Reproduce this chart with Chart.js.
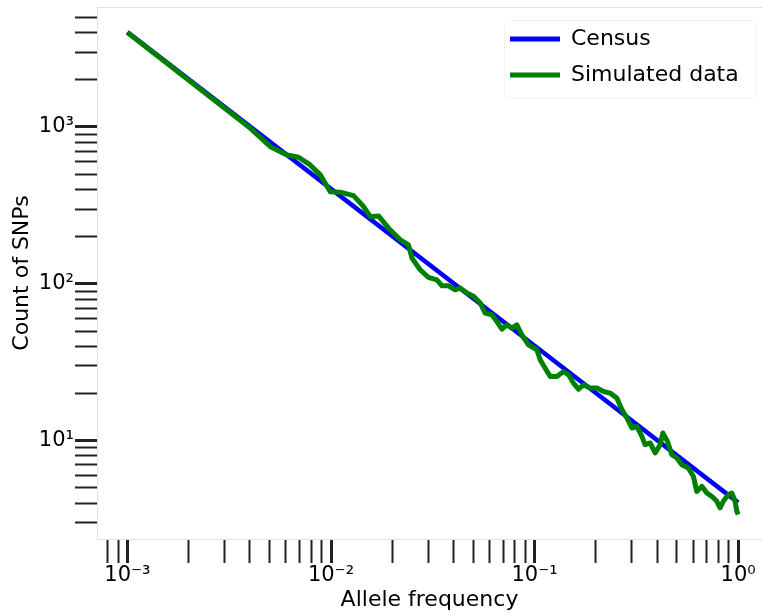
<!DOCTYPE html>
<html>
<head>
<meta charset="utf-8">
<script src="https://cdn.jsdelivr.net/npm/chart.js@4.4.1/dist/chart.umd.min.js"></script>
<style>
  html, body { margin: 0; padding: 0; background: #fff; overflow: hidden; }
</style>
</head>
<body>
<canvas id="sfsChart" width="762" height="616"></canvas>
<script>
// Census: recta en escala log-log
const censusFreq = [0.001, 0.01, 0.1, 1];
const censusCount = [4030, 403, 40.3, 4.03];

// Simulated data
const simFreq = [0.001, 0.00402, 0.00504, 0.00608, 0.00693, 0.0079, 0.00886, 0.00992, 0.0111, 0.0129,
  0.01445, 0.0156, 0.0171, 0.0195, 0.0219, 0.0240, 0.0250, 0.0274, 0.0301, 0.0331,
  0.0351, 0.0378, 0.0407, 0.0432, 0.0465, 0.0501, 0.0541, 0.0572, 0.0617, 0.0653,
  0.0691, 0.0731, 0.0774, 0.0818, 0.0866, 0.0933, 0.1026, 0.1065, 0.1127, 0.1193,
  0.1287, 0.1387, 0.1467, 0.1552, 0.1642, 0.1738, 0.1875, 0.2024, 0.218, 0.235,
  0.2535, 0.2683, 0.2838, 0.3005, 0.3177, 0.3365, 0.349, 0.3694, 0.3908, 0.4136,
  0.4266, 0.4492, 0.4721, 0.4996, 0.5284, 0.5693, 0.6026, 0.626, 0.663, 0.7015,
  0.7413, 0.785, 0.815, 0.8453, 0.8953, 0.93, 0.966, 0.984, 1.0];
const simCount = [4000, 981, 749, 663, 641, 573, 495, 387, 384, 365,
  311, 268, 271, 221, 191, 177, 146, 123, 110, 106,
  97.1, 97.1, 91.6, 93.9, 87.3, 83.3, 75.4, 65.1, 63.5, 57.5,
  51.5, 54.8, 52.2, 54.8, 47.3, 40.9, 38.0, 32.8, 29.0, 25.7,
  25.7, 27.6, 26.3, 23.3, 21.3, 22.7, 21.7, 21.7, 20.6, 20.1,
  18.7, 15.8, 13.96, 12.05, 12.33, 10.65, 9.43, 9.67, 8.35, 9.43,
  11.2, 9.9, 8.15, 7.76, 7.03, 6.70, 5.92, 4.75, 5.12, 4.64,
  4.42, 4.11, 3.73, 4.11, 4.53, 4.64, 4.11, 3.55, 3.38];

// ticks: decadas y multiplicadores menores
const xDecades = [-4, -3, -2, -1, 0];
const yDecades = [0, 1, 2, 3];
const tickMultipliers = [1, 2, 3, 4, 5, 6, 7, 8, 9];
const xRange = [7.09e-4, 1.309];
const yRange = [2.362, 5821];

const FONT = 'DejaVu Sans';
const SUP = {'-': '\u207B', '0': '\u2070', '1': '\u00B9', '2': '\u00B2', '3': '\u00B3',
  '4': '\u2074', '5': '\u2075', '6': '\u2076', '7': '\u2077', '8': '\u2078', '9': '\u2079'};

function isPow10(v) {
  const e = Math.log10(v);
  return Math.abs(e - Math.round(e)) < 1e-9;
}

function tickLabel(value) {
  if (!isPow10(value)) return '';
  const e = Math.round(Math.log10(value));
  return '10' + String(e).split('').map(c => SUP[c]).join('');
}

function buildTicks(decades, range) {
  const out = [];
  decades.forEach(d => {
    tickMultipliers.forEach(m => {
      const v = parseFloat((m * Math.pow(10, d)).toPrecision(6));
      if (v >= range[0] && v <= range[1]) out.push({ value: v, major: m === 1 });
    });
  });
  return out;
}

const tickWidth = ctx => (ctx.tick && ctx.tick.major ? 3 : 2);

const framePlugin = {
  id: 'frame',
  afterLayout(chart) {
    // leyenda dentro del área, arriba a la derecha
    const lg = chart.legend;
    lg.left = chart.chartArea.right - 266;
    lg.top = 14;
    lg.right = lg.left + lg.width;
    lg.bottom = lg.top + lg.height;
  },
  beforeDatasetsDraw(chart) {
    const { ctx, chartArea: a } = chart;
    ctx.save();
    ctx.strokeStyle = '#e2e2e2';
    ctx.lineWidth = 1;
    ctx.beginPath();
    ctx.moveTo(a.left, a.top + 0.5);
    ctx.lineTo(a.right, a.top + 0.5);
    ctx.stroke();
    // marco de la leyenda (muy tenue)
    ctx.strokeStyle = '#f3f3f3';
    ctx.beginPath();
    ctx.roundRect(a.right - 257.5, 20.5, 252, 78, 4);
    ctx.stroke();
    ctx.restore();
  }
};

const ctx = document.getElementById('sfsChart').getContext('2d');

new Chart(ctx, {
  type: 'line',
  data: {
    datasets: [
      {
        label: 'Census',
        data: censusFreq.map((f, i) => ({ x: f, y: censusCount[i] })),
        borderColor: '#0000ff',
        backgroundColor: '#0000ff',
        borderWidth: 4.5,
        pointRadius: 0,
        tension: 0,
        order: 1
      },
      {
        label: 'Simulated data',
        data: simFreq.map((f, i) => ({ x: f, y: simCount[i] })),
        borderColor: '#008000',
        backgroundColor: '#008000',
        borderWidth: 5,
        borderJoinStyle: 'round',
        pointRadius: 0,
        tension: 0,
        order: 0
      }
    ]
  },
  options: {
    responsive: false,
    animation: false,
    devicePixelRatio: 1,
    layout: { padding: { top: 7, left: 0, right: 0, bottom: 0 } },
    plugins: {
      tooltip: { enabled: false },
      legend: {
        position: 'chartArea',
        align: 'start',
        labels: {
          font: { family: FONT, size: 22 },
          color: '#000',
          boxWidth: 50,
          boxHeight: 5,
          padding: 14,
          sort: (a, b) => a.datasetIndex - b.datasetIndex,
          generateLabels(chart) {
            const items = Chart.defaults.plugins.legend.labels.generateLabels(chart);
            return items.map(it => Object.assign(it, { lineWidth: 0, fillStyle: it.strokeStyle }));
          }
        }
      }
    },
    scales: {
      x: {
        type: 'logarithmic',
        position: 'bottom',
        min: xRange[0],
        max: xRange[1],
        afterBuildTicks: scale => { scale.ticks = buildTicks(xDecades, xRange); },
        afterFit: scale => {
          scale.height = 77;
          scale.paddingLeft = scale.paddingRight = scale.paddingTop = scale.paddingBottom = 0;
        },
        grid: {
          drawOnChartArea: false,
          tickLength: 24,
          tickColor: '#222',
          tickWidth: tickWidth
        },
        border: { display: true, color: '#e2e2e2', width: 1 },
        ticks: {
          autoSkip: false,
          maxRotation: 0,
          minRotation: 0,
          padding: 0,
          color: '#000',
          font: { family: FONT, size: 21 },
          callback: tickLabel
        },
        title: {
          display: true,
          text: 'Allele frequency',
          color: '#000',
          font: { family: FONT, size: 22 },
          padding: { top: 0, bottom: 3 }
        }
      },
      y: {
        type: 'logarithmic',
        min: yRange[0],
        max: yRange[1],
        afterBuildTicks: scale => { scale.ticks = buildTicks(yDecades, yRange); },
        afterFit: scale => {
          scale.width = 97;
          scale.paddingLeft = scale.paddingRight = scale.paddingTop = scale.paddingBottom = 0;
        },
        grid: {
          drawOnChartArea: false,
          tickLength: 22,
          tickColor: '#222',
          tickWidth: tickWidth
        },
        border: { display: true, color: '#e2e2e2', width: 1 },
        ticks: {
          autoSkip: false,
          padding: 1,
          color: '#000',
          font: { family: FONT, size: 21 },
          callback: tickLabel
        },
        title: {
          display: true,
          text: 'Count of SNPs',
          color: '#000',
          font: { family: FONT, size: 22 },
          padding: { top: 9, bottom: 0 }
        }
      }
    }
  },
  plugins: [framePlugin]
});
</script>
</body>
</html>
